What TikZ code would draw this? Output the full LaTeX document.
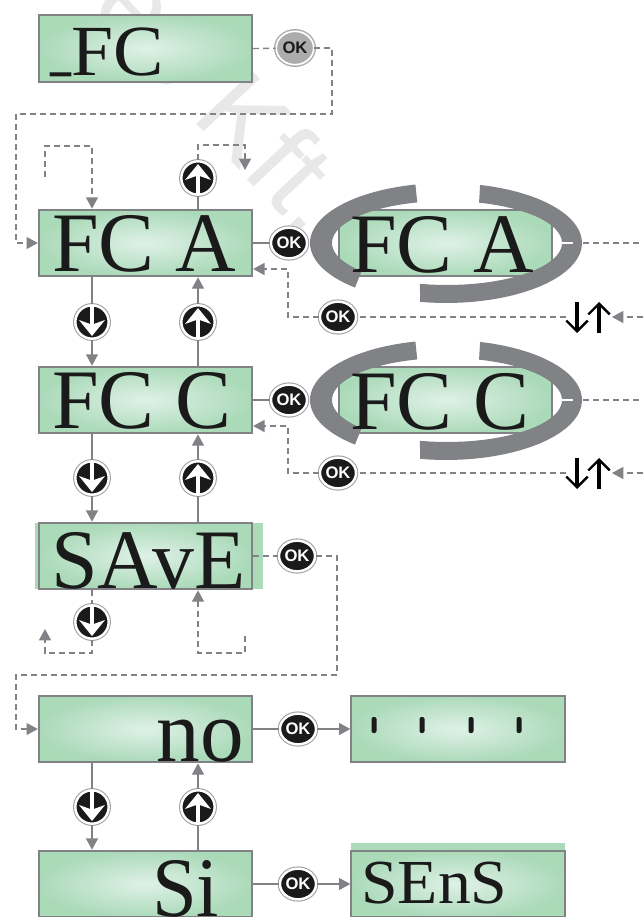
\documentclass[tikz,border=0pt]{standalone}
\usepackage{fontspec}
\usetikzlibrary{arrows.meta,shapes.geometric,calc}
\setmainfont{Liberation Serif}
\newfontfamily\lcdf[FakeStretch=0.95]{Liberation Serif}
\newfontfamily\lcdm[FakeStretch=0.99]{Liberation Serif}
\newfontfamily\lcdw[FakeStretch=1.05]{Liberation Serif}
\newfontfamily\btnf{Liberation Sans}
\newfontfamily\wmf{Liberation Sans}
\definecolor{lcdo}{HTML}{ABDAB9}
\definecolor{lcdi}{HTML}{DFF1E7}
\definecolor{gr}{HTML}{808285}
\definecolor{wm}{HTML}{E8E8E8}
\definecolor{ink}{HTML}{1A1A1A}
\newcommand{\gring}[1]{%
 \fill[gr] plot[domain=103:228,samples=40] ({446+136*cos(\x)},{#1-60*sin(\x)}) -- plot[domain=222:105,samples=40] ({447+115*cos(\x)},{#1-42*sin(\x)}) -- cycle;
 \fill[gr] plot[domain=75.5:-101,samples=40] ({446+136*cos(\x)},{#1-60*sin(\x)}) -- plot[domain=-103.6:73.8,samples=40] ({447+115*cos(\x)},{#1-42*sin(\x)}) -- cycle;
 \draw[white,line width=1pt] (562,#1) -- (573,#1);
}
\tikzset{
 lcd/.style={rectangle,draw=gr,line width=1.5pt,inner color=lcdi,outer color=lcdo,inner sep=0pt,minimum width=160pt,minimum height=50pt},
 bigtxt/.style={inner sep=0pt,anchor=base west,text=ink,font=\lcdm\fontsize{63.5}{70}\selectfont},
 btnbase/.style={ellipse,inner sep=0pt,minimum width=27pt,minimum height=23pt,fill=ink,draw=white,line width=1.8pt,preaction={draw=gr!75,line width=3.4pt}},
 okb/.style={btnbase,text=white,font=\btnf\bfseries\fontsize{12.5}{12.5}\selectfont},
 okg/.style={btnbase,fill=gray!65,line width=1.2pt,preaction={draw=gr!60,line width=2.8pt},text=ink,font=\btnf\bfseries\fontsize{12.5}{12.5}\selectfont,minimum width=28pt,minimum height=25pt},
 upb/.style={btnbase,minimum width=25pt,minimum height=25pt,path picture={\fill[white,shift={(path picture bounding box.center)}] (0,-14)--(13,2)--(1.8,-2)--(1.8,16)--(-1.8,16)--(-1.8,-2)--(-13,2)--cycle;}},
 dnb/.style={btnbase,minimum width=25pt,minimum height=25pt,path picture={\fill[white,shift={(path picture bounding box.center)}] (0,14)--(13,-2)--(1.8,2)--(1.8,-16)--(-1.8,-16)--(-1.8,2)--(-13,-2)--cycle;}},
 sol/.style={draw=gr,line width=1pt},
 dsh/.style={draw=gr,line width=1pt,dash pattern=on 4.5pt off 3pt},
 tip/.style={-{Triangle[length=8.5pt,width=9pt,color=gr]}},
 blk/.style={draw=black,line width=2.4pt,-{Straight Barb[length=8pt,width=16pt,line width=1.8pt]}},
}
\begin{document}
\begin{tikzpicture}[x=0.75pt,y=-0.75pt]
\useasboundingbox (0,0) rectangle (643,917);
% watermark
\begin{scope}
\clip (0,0) rectangle (643,917);
\node[inner sep=0pt,anchor=base west,rotate=-47,text=wm,font=\wmf\fontsize{84}{90}\selectfont] (wmark) at (88,8) {es Kft.};
\end{scope}
\coordinate (col1) at (92,0);
\coordinate (col2) at (198,0);
% extra green bands
\fill[lcdo] (35,523) rectangle (263,589);
\fill[lcdo] (351,843) rectangle (565,852);
% boxes
\node[lcd] (fc0) at (145.5,48.5) {};
\node[lcd] (fca) at (145.5,243) {};
\node[lcd] (fcc) at (145.5,400) {};
\node[lcd] (sav) at (145.5,556) {};
\node[lcd] (no) at (145.5,729) {};
\node[lcd] (si) at (145.5,884) {};
\node[lcd] (dots) at (458,729) {};
\node[lcd] (sen) at (458,884) {};
\node[lcd] (fca2) at (445.5,243) {};
\node[lcd] (fcc2) at (445.5,400) {};
\gring{243}
\gring{400}
% buttons
\node[okg] (ok0) at (295,48) {OK};
\node[okb] (oka) at (289,243) {OK};
\node[okb] (okc) at (289,400) {OK};
\node[okb] (oka2) at (338,317) {OK};
\node[okb] (okc2) at (338,473) {OK};
\node[okb] (oks) at (297,556) {OK};
\node[okb] (okn) at (298,729) {OK};
\node[okb] (oki) at (298,884) {OK};
\node[upb] (u0) at (198,178) {};
\node[upb] (u1) at (198,322) {};
\node[upb] (u2) at (198,478) {};
\node[upb] (u3) at (198,807) {};
\node[dnb] (d1) at (92,322) {};
\node[dnb] (d2) at (92,478) {};
\node[dnb] (d3) at (92,622) {};
\node[dnb] (d4) at (92,807) {};
% free ends
\coordinate (f1) at (45,177);
\coordinate (f2) at (245,170);
\coordinate (f3) at (45,629);
\coordinate (f4) at (245,636);
\coordinate (ea) at (643,243);
\coordinate (ec) at (643,400);
\coordinate (eb) at (643,317);
\coordinate (ed) at (643,473);
\coordinate (ta) at (612,317);
\coordinate (tc) at (612,473);
\coordinate (ga) at (566,317);
\coordinate (gc) at (566,473);
\coordinate (ra) at (573,243);
\coordinate (rc) at (573,400);
% dashed
\draw[dsh] (fc0.east) -- (ok0);
\draw[dsh,tip] (ok0) -- (332,48) -- (332,114) -- (16,114) -- (16,243) -- (fca.west);
\draw[dsh,tip] (f1) -- (45,146) -- (92,146) -- (fca.north -| col1);
\draw[dsh,tip] (u0) -- (198,145) -- (245,145) -- (f2);
\draw[dsh] (ra) -- (ea);
\draw[dsh] (rc) -- (ec);
\draw[dsh,tip] (eb) -- (ta);
\draw[dsh,tip] (ed) -- (tc);
\draw[dsh] (ga) -- (oka2);
\draw[dsh] (gc) -- (okc2);
\draw[dsh,tip] (oka2) -- (288,317) -- (288,269) -- (fca.east |- 0,269);
\draw[dsh,tip] (okc2) -- (288,473) -- (288,426) -- (fcc.east |- 0,426);
\draw[dsh] (sav.east) -- (oks);
\draw[dsh,tip] (oks) -- (337,556) -- (337,675) -- (16,675) -- (16,729) -- (no.west);
\draw[dsh] (sav.south -| col1) -- (d3);
\draw[dsh,tip] (d3) -- (92,653) -- (45,653) -- (f3);
\draw[dsh,tip] (f4) -- (245,653) -- (198,653) -- (sav.south -| col2);
% solid
\draw[sol] (fca.north -| col2) -- (u0);
\draw[sol] (fca.east) -- (oka);
\draw[sol] (fcc.east) -- (okc);
\draw[sol] (fca.south -| col1) -- (d1);
\draw[sol,tip] (d1) -- (fcc.north -| col1);
\draw[sol] (fcc.north -| col2) -- (u1);
\draw[sol,tip] (u1) -- (fca.south -| col2);
\draw[sol] (fcc.south -| col1) -- (d2);
\draw[sol,tip] (d2) -- (sav.north -| col1);
\draw[sol] (sav.north -| col2) -- (u2);
\draw[sol,tip] (u2) -- (fcc.south -| col2);
\draw[sol] (no.south -| col1) -- (d4);
\draw[sol,tip] (d4) -- (si.north -| col1);
\draw[sol] (si.north -| col2) -- (u3);
\draw[sol,tip] (u3) -- (no.south -| col2);
\draw[sol] (no.east) -- (okn);
\draw[sol,tip] (okn) -- (dots.west);
\draw[sol] (si.east) -- (oki);
\draw[sol,tip] (oki) -- (sen.west);
% black arrow pairs
\coordinate (a1) at (577,302); \coordinate (a2) at (577,333);
\coordinate (a3) at (599,333); \coordinate (a4) at (599,302);
\coordinate (c1) at (577,458); \coordinate (c2) at (577,489);
\coordinate (c3) at (599,489); \coordinate (c4) at (599,458);
\draw[blk] (a1) -- (a2);
\draw[blk] (a3) -- (a4);
\draw[blk] (c1) -- (c2);
\draw[blk] (c3) -- (c4);
% dots
\foreach \dx/\nm in {374/a,422/b,471/c,519/d}{
 \fill[ink,rounded corners=1.5pt] (\dx-2.5,717) rectangle (\dx+2.5,733);
}
% texts
\node[bigtxt,font=\lcdw\fontsize{54}{60}\selectfont] (t0) at (50,76) {\raisebox{7pt}{\fontsize{30}{30}\selectfont\scalebox{1}[2]{\_}}FC};
\node[bigtxt] (t1) at (52,271) {FC A};
\node[bigtxt] (t2) at (52,428) {FC C};
\node[bigtxt] (t1b) at (350,272) {FC A};
\node[bigtxt] (t2b) at (350,429) {FC C};
\node[bigtxt] (t3) at (51,588) {SAvE};
\node[bigtxt,anchor=base east,font=\lcdm\fontsize{66}{70}\selectfont] (t4) at (244,761) {no};
\node[bigtxt,font=\lcdf\fontsize{63.5}{70}\selectfont] (t5) at (152,916) {Si};
\node[bigtxt,font=\lcdw\fontsize{47}{50}\selectfont] (t6) at (361,903) {SEnS};
\end{tikzpicture}
\end{document}
